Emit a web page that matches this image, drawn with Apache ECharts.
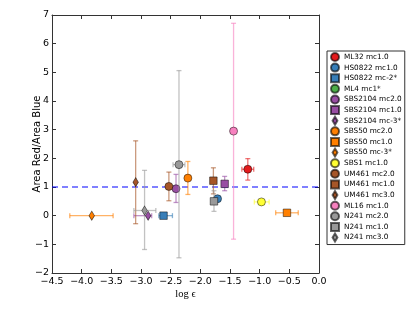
<!DOCTYPE html>
<html><head><meta charset="utf-8">
<script src="https://cdn.jsdelivr.net/npm/echarts@6/dist/echarts.min.js"></script>
<style>html,body{margin:0;padding:0;background:#fff}#c{width:415px;height:312px}</style>
</head><body><div id="c"></div>
<script>
// ---- data ----
const names = ['ML32 mc1.0','HS0822 mc1.0','HS0822 mc-2*','ML4 mc1*','SBS2104 mc2.0','SBS2104 mc1.0','SBS2104 mc-3*','SBS50 mc2.0','SBS50 mc1.0','SBS50 mc-3*','SBS1 mc1.0','UM461 mc2.0','UM461 mc1.0','UM461 mc3.0','ML16 mc1.0','N241 mc2.0','N241 mc1.0','N241 mc3.0'];
const logEps = [-1.20, -1.71, -2.62, null, -2.41, -1.59, -2.88, -2.21, -0.54, -3.83, -0.97, -2.53, -1.78, -3.09, -1.44, -2.36, -1.77, -2.94];
const ratio  = [ 1.62,  0.59,  0.00, null,  0.94,  1.11,  0.00,  1.31,  0.10,  0.00,  0.48,  1.02,  1.22,  1.17,  2.95,  1.78,  0.50,  0.18];
const xLow   = [-1.30, -1.75, -2.70, null, -2.41, -1.62, -3.12, -2.21, -0.73, -4.20, -1.09, -2.53, -1.78, -3.09, -1.47, -2.46, -1.81, -3.12];
const xHigh  = [-1.10, -1.67, -2.47, null, -2.41, -1.56, -2.82, -2.21, -0.35, -3.47, -0.84, -2.53, -1.78, -3.09, -1.41, -2.26, -1.73, -2.75];
const yLow   = [ 1.24,  0.55,  0.00, null,  0.46,  0.87,  0.00,  0.74,  0.10,  0.00,  0.48,  0.52,  0.76, -0.28, -0.82, -1.47,  0.15, -1.18];
const yHigh  = [ 1.99,  0.63,  0.00, null,  1.44,  1.37,  0.00,  1.89,  0.10,  0.00,  0.48,  1.52,  1.67,  2.61,  6.71,  5.06,  0.87,  1.58];
const shapes = ['circle','circle','square','circle','circle','square','diamond','circle','square','diamond','circle','circle','square','diamond','circle','circle','square','diamond'];
const colors = ['#e41a1c','#377eb8','#377eb8','#4daf4a','#984ea3','#984ea3','#984ea3','#ff7f00','#ff7f00','#ff7f00','#ffff33','#a65628','#a65628','#a65628','#f781bf','#999999','#999999','#999999'];
const refLine = 1;
const xRange = [-4.5, 0], xStep = 0.5;
const yRange = [-2, 7], yStep = 1;

// ---- styling helpers ----
const diamondPath = 'path://M0,-10 L6,0 L0,10 L-6,0 Z';
const symbolOf = s => s === 'circle' ? 'circle' : s === 'square' ? 'rect' : diamondPath;
const sizeOf = s => s === 'circle' ? 8 : s === 'square' ? 7.5 : [5.5, 9];
const minus = v => String(v).replace('-', '\u2212');

function hexA(hex, a) {
  const n = parseInt(hex.slice(1), 16);
  return `rgba(${(n>>16)&255},${(n>>8)&255},${n&255},${a})`;
}

function errRenderer(color) {
  return function (params, api) {
    const x = api.value(0), y = api.value(1);
    const xl = api.value(2), xh = api.value(3), yl = api.value(4), yh = api.value(5);
    const style = { stroke: hexA(color, 0.6), lineWidth: 1.3, fill: null };
    const ch = [], cap = 2.5;
    const seg = (x1, y1, x2, y2) => ch.push({ type: 'line', shape: { x1, y1, x2, y2 }, style });
    if (xh > xl) {
      const a = api.coord([xl, y]), b = api.coord([xh, y]);
      seg(a[0], a[1], b[0], b[1]);
      seg(a[0], a[1] - cap, a[0], a[1] + cap);
      seg(b[0], b[1] - cap, b[0], b[1] + cap);
    }
    if (yh > yl) {
      const a = api.coord([x, yl]), b = api.coord([x, yh]);
      seg(a[0], a[1], b[0], b[1]);
      seg(a[0] - cap, a[1], a[0] + cap, a[1]);
      seg(b[0] - cap, b[1], b[0] + cap, b[1]);
    }
    return { type: 'group', children: ch };
  };
}

const series = [{
  type: 'line', name: 'ref', z: 1, silent: true, symbol: 'none',
  lineStyle: { color: '#0000ff', type: [6, 4], width: 1 },
  data: [[xRange[0], refLine], [xRange[1], refLine]]
}];
names.forEach((nm, i) => {
  const has = logEps[i] !== null;
  const row = has ? [[logEps[i], ratio[i], xLow[i], xHigh[i], yLow[i], yHigh[i]]] : [];
  series.push({
    type: 'custom', name: nm + ' err', z: 10 + i * 2, silent: true,
    renderItem: errRenderer(colors[i]),
    encode: { x: [0, 2, 3], y: [1, 4, 5] },
    data: row
  });
  series.push({
    type: 'scatter', name: nm, z: 11 + i * 2, silent: true,
    symbol: symbolOf(shapes[i]), symbolSize: sizeOf(shapes[i]), symbolKeepAspect: false,
    itemStyle: { color: colors[i], borderColor: 'rgba(0,0,0,0.6)', borderWidth: 0.8, opacity: 1 },
    data: has ? [[logEps[i], ratio[i]]] : []
  });
});

const axisCommon = {
  type: 'value',
  axisLine: { show: true, onZero: false, lineStyle: { color: '#333', width: 1 } },
  axisTick: { show: true, inside: true, length: 4, lineStyle: { color: '#333' } },
  splitLine: { show: false },
  axisLabel: { color: '#000', fontFamily: 'DejaVu Sans', fontSize: 9.5 }
};

const chart = echarts.init(document.getElementById('c'), null, { renderer: 'canvas' });
chart.setOption({
  animation: false,
  backgroundColor: '#fff',
  grid: { left: 52, right: 96, top: 15, bottom: 39 },
  xAxis: [
    Object.assign({}, axisCommon, {
      position: 'bottom', min: xRange[0], max: xRange[1], interval: xStep,
      axisLabel: Object.assign({}, axisCommon.axisLabel, { margin: 4, formatter: v => minus(v.toFixed(1)) }),
      name: 'log \u03f5', nameLocation: 'middle', nameGap: 16, nameMoveOverlap: false,
      nameTextStyle: { fontFamily: "'Liberation Serif','DejaVu Serif',serif", fontSize: 10.5, color: '#000' }
    }),
    Object.assign({}, axisCommon, {
      position: 'top', min: xRange[0], max: xRange[1], interval: xStep,
      axisLabel: { show: false }
    })
  ],
  yAxis: [
    Object.assign({}, axisCommon, {
      position: 'left', min: yRange[0], max: yRange[1], interval: yStep,
      axisLabel: Object.assign({}, axisCommon.axisLabel, { margin: 3, formatter: v => minus(v) }),
      name: 'Area Red/Area Blue', nameLocation: 'middle', nameGap: 10, nameRotate: 90, nameMoveOverlap: false,
      nameTextStyle: { fontFamily: 'DejaVu Sans', fontSize: 10, color: '#000' }
    }),
    Object.assign({}, axisCommon, {
      position: 'right', min: yRange[0], max: yRange[1], interval: yStep,
      axisLabel: { show: false }
    })
  ],
  legend: {
    orient: 'vertical', left: 327, top: 51,
    padding: [1, 3, 2, 3], itemGap: 0.62, itemWidth: 8, itemHeight: 8,
    borderColor: '#333', borderWidth: 1, backgroundColor: '#fff',
    selectedMode: false, symbolKeepAspect: true,
    textStyle: { fontFamily: 'DejaVu Sans', fontSize: 7.3, color: '#000', lineHeight: 10 },
    data: names.map((nm, i) => ({ name: nm, icon: shapes[i] === 'diamond' ? diamondPath : symbolOf(shapes[i]) }))
  },
  series: series
});
</script>
</body></html>
